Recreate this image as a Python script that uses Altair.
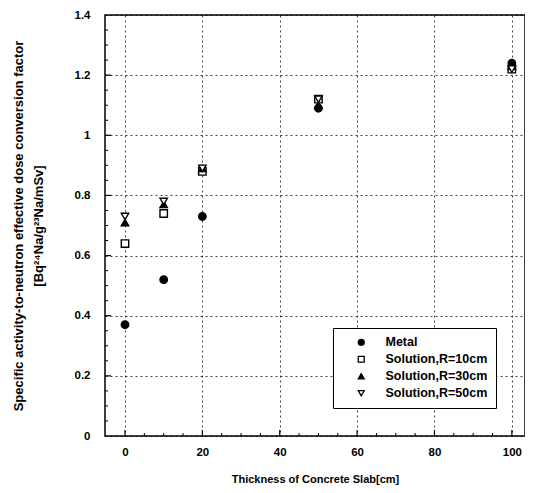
import altair as alt
import pandas as pd

thickness = [0, 10, 20, 50, 100]
metal = [0.37, 0.52, 0.73, 1.09, 1.24]
sol10 = [0.64, 0.74, 0.88, 1.12, 1.22]
sol30 = [0.71, 0.77, 0.89, 1.10, 1.23]
sol50 = [0.73, 0.78, 0.89, 1.12, 1.22]
series = ["Metal", "Solution,R=10cm", "Solution,R=30cm", "Solution,R=50cm"]

y_major = [0.2, 0.4, 0.6, 0.8, 1.0, 1.2]
y_minor = [0.05, 0.1, 0.15, 0.25, 0.3, 0.35, 0.45, 0.5, 0.55, 0.65, 0.7, 0.75,
           0.85, 0.9, 0.95, 1.05, 1.1, 1.15, 1.25, 1.3, 1.35]
x_major = [0, 20, 40, 60, 80, 100]
x_minor = [5, 10, 15, 25, 30, 35, 45, 50, 55, 65, 70, 75, 85, 90, 95]

rows = []
for name, vals in zip(series, [metal, sol10, sol30, sol50]):
    for t, v in zip(thickness, vals):
        rows.append({"thickness": t, "value": v, "series": name})
df = pd.DataFrame(rows)

FONT = "Liberation Sans"
XDOM = [-5.17, 103.4]
YDOM = [0, 1.4]
H = 421

legend = alt.Legend(title=None, orient="none", legendX=228, legendY=313,
                    strokeColor="black", padding=8, fillColor="white",
                    labelFont=FONT, labelFontSize=12.5, labelFontWeight="bold",
                    labelColor="black", rowPadding=4, labelOffset=18, symbolSize=35,
                    symbolOffset=14, symbolStrokeWidth=1.3)

points = alt.Chart(df).mark_point(size=55, strokeWidth=1.4, opacity=1).encode(
    x=alt.X("thickness:Q",
            scale=alt.Scale(domain=XDOM, nice=False, zero=False),
            axis=alt.Axis(values=x_major, title="Thickness of Concrete Slab[cm]",
                          titlePadding=16, labelPadding=10)),
    y=alt.Y("value:Q",
            scale=alt.Scale(domain=YDOM, nice=False),
            axis=alt.Axis(values=[0, 0.2, 0.4, 0.6, 0.8, 1.0, 1.2, 1.4], format=".1~f",
                          title=["Specific activity-to-neutron effective dose conversion factor",
                                 "[Bq²⁴Na/g²³Na/mSv]"],
                          titleFontSize=13, titleLineHeight=20,
                          titlePadding=29, labelPadding=15)),
    shape=alt.Shape("series:N", sort=series,
                    scale=alt.Scale(domain=series, range=["circle", "square", "triangle-up", "triangle-down"]),
                    legend=legend),
    fill=alt.Fill("series:N", sort=series,
                  scale=alt.Scale(domain=series, range=["black", "white", "black", "white"]),
                  legend=legend),
    stroke=alt.Stroke("series:N", sort=series,
                      scale=alt.Scale(domain=series, range=["black", "black", "black", "black"]),
                      legend=legend),
)

ymaj = alt.Chart(pd.DataFrame({"v": y_major})).mark_rule(color="black", strokeWidth=1.2).encode(
    y=alt.Y("v:Q", scale=alt.Scale(domain=YDOM, nice=False)), x=alt.value(0), x2=alt.value(6))
ymin = alt.Chart(pd.DataFrame({"v": y_minor})).mark_rule(color="black", strokeWidth=1).encode(
    y=alt.Y("v:Q", scale=alt.Scale(domain=YDOM, nice=False)), x=alt.value(0), x2=alt.value(3))
xmaj = alt.Chart(pd.DataFrame({"v": x_major})).mark_rule(color="black", strokeWidth=1.2).encode(
    x=alt.X("v:Q", scale=alt.Scale(domain=XDOM, nice=False, zero=False)),
    y=alt.value(H), y2=alt.value(H - 6))
xmin = alt.Chart(pd.DataFrame({"v": x_minor})).mark_rule(color="black", strokeWidth=1).encode(
    x=alt.X("v:Q", scale=alt.Scale(domain=XDOM, nice=False, zero=False)),
    y=alt.value(H), y2=alt.value(H - 3))

chart = alt.layer(ymaj, ymin, xmaj, xmin, points).properties(
    width=420, height=H,
    autosize=alt.AutoSizeParams(type="none"),
    padding={"left": 97, "top": 7, "right": 0, "bottom": 50},
).configure_axis(
    labelFont=FONT, titleFont=FONT, labelFontSize=11.5, titleFontSize=11,
    labelFontWeight="bold", titleFontWeight="bold", labelColor="black", titleColor="black",
    grid=True, gridColor="black", gridDash=[2, 3], gridOpacity=0.75, gridWidth=1,
    domain=False, ticks=False,
).configure_view(stroke="black", strokeWidth=1.5)

chart.save("out.html", embed_options={"renderer": "svg", "actions": False})
